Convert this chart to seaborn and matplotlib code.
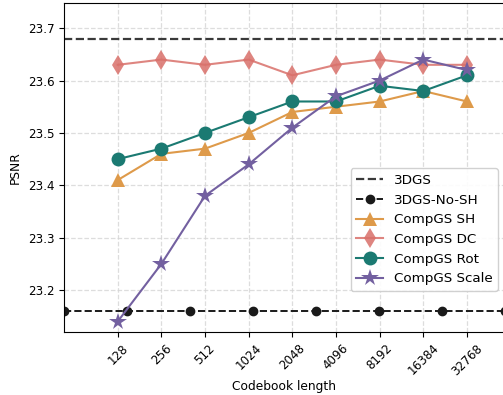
import numpy as np
import pandas as pd
import matplotlib
import matplotlib.pyplot as plt
import seaborn as sns

matplotlib.use("Agg")

# data
codebook = ["128", "256", "512", "1024", "2048", "4096", "8192", "16384", "32768"]
psnr_sh    = [23.41, 23.46, 23.47, 23.50, 23.54, 23.55, 23.56, 23.58, 23.56]
psnr_dc    = [23.63, 23.64, 23.63, 23.64, 23.61, 23.63, 23.64, 23.63, 23.63]
psnr_rot   = [23.45, 23.47, 23.50, 23.53, 23.56, 23.56, 23.59, 23.58, 23.61]
psnr_scale = [23.14, 23.25, 23.38, 23.44, 23.51, 23.57, 23.60, 23.64, 23.62]
psnr_3dgs = 23.68
psnr_3dgs_nosh = 23.16

X_LO, X_HI = -1.23, 8.87

series = [
    ("CompGS SH",    psnr_sh,    "#DE9A4A", "^", 10, 1.0),
    ("CompGS DC",    psnr_dc,    "#D9706A", "d", 10.5, 0.85),
    ("CompGS Rot",   psnr_rot,   "#1B7A72", "o", 10, 1.0),
    ("CompGS Scale", psnr_scale, "#7360A0", "*", 13, 1.0),
]

fig = plt.figure(figsize=(5.03, 3.95), dpi=100)
ax = fig.add_axes([64 / 503, 63 / 395, 441 / 503, 329 / 395])

ax.axhline(psnr_3dgs, color="#3a3a3a", linestyle="--", linewidth=1.6, label="3DGS")
nosh_x = np.linspace(X_LO, X_HI, 8)
ax.plot(nosh_x, [psnr_3dgs_nosh] * len(nosh_x), color="#1a1a1a", linestyle="--",
        linewidth=1.4, marker="o", markersize=6, label="3DGS-No-SH")

idx = np.arange(len(codebook))
for name, vals, color, marker, ms, alpha in series:
    df = pd.DataFrame({"x": idx, "y": vals})
    sns.lineplot(data=df, x="x", y="y", ax=ax, color=color, marker=marker,
                 markersize=ms, markeredgewidth=0, linewidth=1.5, alpha=alpha,
                 label=name)

ax.set_xlim(X_LO, X_HI)
ax.set_ylim(23.12, 23.748)
ax.set_xticks(idx)
ax.set_xticklabels(codebook, rotation=45, fontsize=8.6)
ax.set_yticks([23.2, 23.3, 23.4, 23.5, 23.6, 23.7])
ax.tick_params(axis="y", labelsize=8.6)
ax.set_xlabel("Codebook length", fontsize=8.8, labelpad=2)
ax.set_ylabel("PSNR", fontsize=8.8)
ax.grid(True, linestyle="--", color="#d5d5d5", alpha=0.8, linewidth=0.9)
ax.set_axisbelow(True)

ax.legend(loc="lower right", bbox_to_anchor=(0.984, 0.125), borderaxespad=0,
          fontsize=9.7, framealpha=0.9)

fig.savefig("out.png", dpi=100)
plt.close()
